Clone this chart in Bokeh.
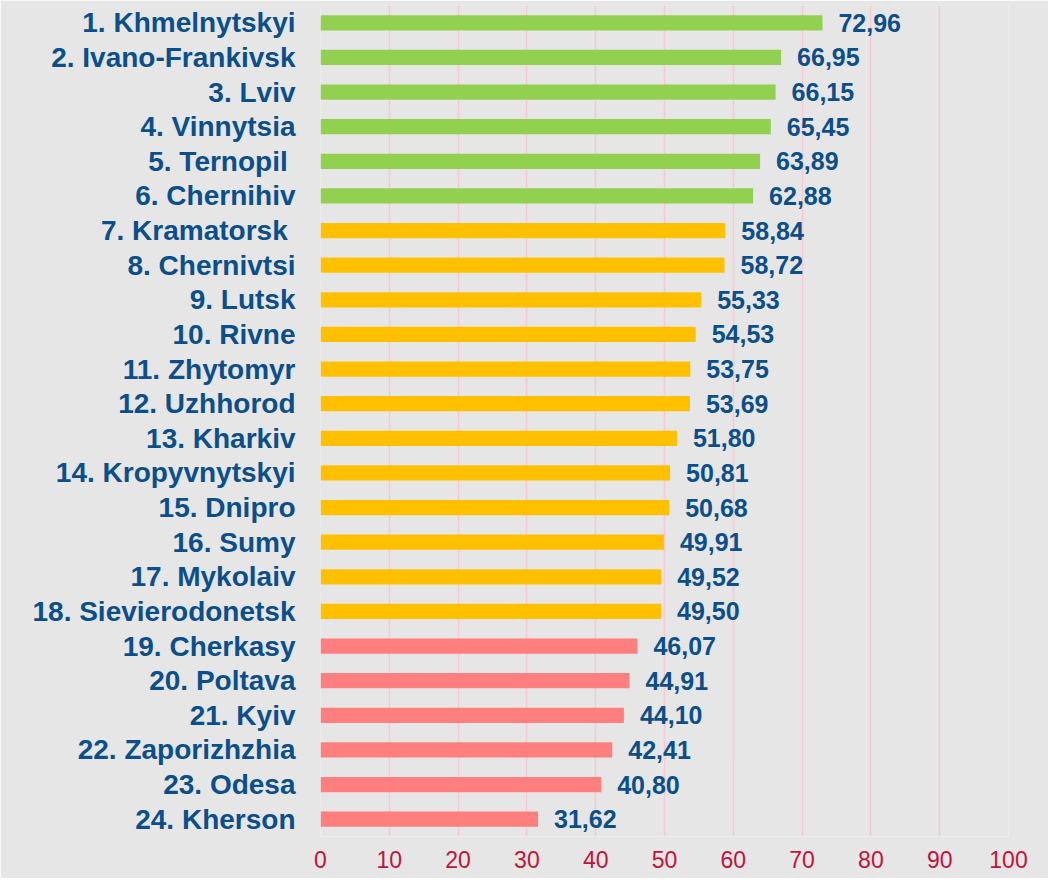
from bokeh.plotting import figure
from bokeh.models import ColumnDataSource, FixedTicker
from bokeh.core.properties import value
from bokeh.embed import file_html
from bokeh.resources import INLINE

cities = ["1. Khmelnytskyi", "2. Ivano-Frankivsk", "3. Lviv", "4. Vinnytsia", "5. Ternopil ",
          "6. Chernihiv", "7. Kramatorsk ", "8. Chernivtsi", "9. Lutsk", "10. Rivne",
          "11. Zhytomyr", "12. Uzhhorod", "13. Kharkiv", "14. Kropyvnytskyi", "15. Dnipro",
          "16. Sumy", "17. Mykolaiv", "18. Sievierodonetsk", "19. Cherkasy", "20. Poltava",
          "21. Kyiv", "22. Zaporizhzhia", "23. Odesa", "24. Kherson"]
scores = [72.96, 66.95, 66.15, 65.45, 63.89, 62.88, 58.84, 58.72, 55.33, 54.53,
          53.75, 53.69, 51.80, 50.81, 50.68, 49.91, 49.52, 49.50, 46.07, 44.91,
          44.10, 42.41, 40.80, 31.62]
groups = ["high"] * 6 + ["mid"] * 12 + ["low"] * 6
group_colors = {"high": "#92D050", "mid": "#FFC000", "low": "#FF7F7F"}
x_ticks = [0, 10, 20, 30, 40, 50, 60, 70, 80, 90, 100]

BG = "#E7E6E6"
BLUE = "#0A4F8C"
RED = "#C0143C"

src = ColumnDataSource(dict(
    city=cities,
    score=scores,
    color=[group_colors[g] for g in groups],
    label=[f"{v:.2f}".replace(".", ",") for v in scores],
))

p = figure(y_range=list(reversed(cities)), x_range=(0, 100),
           width=1048, height=878, output_backend="svg", toolbar_location=None,
           min_border_left=320, min_border_right=40, min_border_top=5, min_border_bottom=42)
p.frame_width = 688
p.frame_height = 831

p.background_fill_color = BG
p.border_fill_color = BG
p.outline_line_color = None

p.hbar(y="city", right="score", left=0, height=0.44, color="color", line_color=None, source=src)
p.text(x="score", y="city", text="label", source=src, x_offset=16,
       text_baseline="middle", text_align="left", text_color=BLUE,
       text_font=value("Liberation Sans"), text_font_size="25px", text_font_style="bold")

p.xaxis.ticker = FixedTicker(ticks=x_ticks)
p.xaxis.axis_line_color = None
p.xaxis.major_tick_line_color = None
p.xaxis.minor_tick_line_color = None
p.xaxis.major_tick_out = 0
p.xaxis.major_label_text_color = RED
p.xaxis.major_label_text_font = "Liberation Sans"
p.xaxis.major_label_text_font_size = "23px"
p.xaxis.major_label_standoff = 14

p.yaxis.axis_line_color = None
p.yaxis.major_tick_line_color = None
p.yaxis.major_tick_out = 0
p.yaxis.major_label_text_color = BLUE
p.yaxis.major_label_text_font = "Liberation Sans"
p.yaxis.major_label_text_font_style = "bold"
p.yaxis.major_label_text_font_size = "28px"
p.yaxis.major_label_standoff = 25

p.xgrid.grid_line_color = "#F8C8D4"
p.xgrid.grid_line_width = 1.5
p.ygrid.grid_line_color = None

html = file_html(p, INLINE)
with open("out.html", "w") as f:
    f.write(html)
